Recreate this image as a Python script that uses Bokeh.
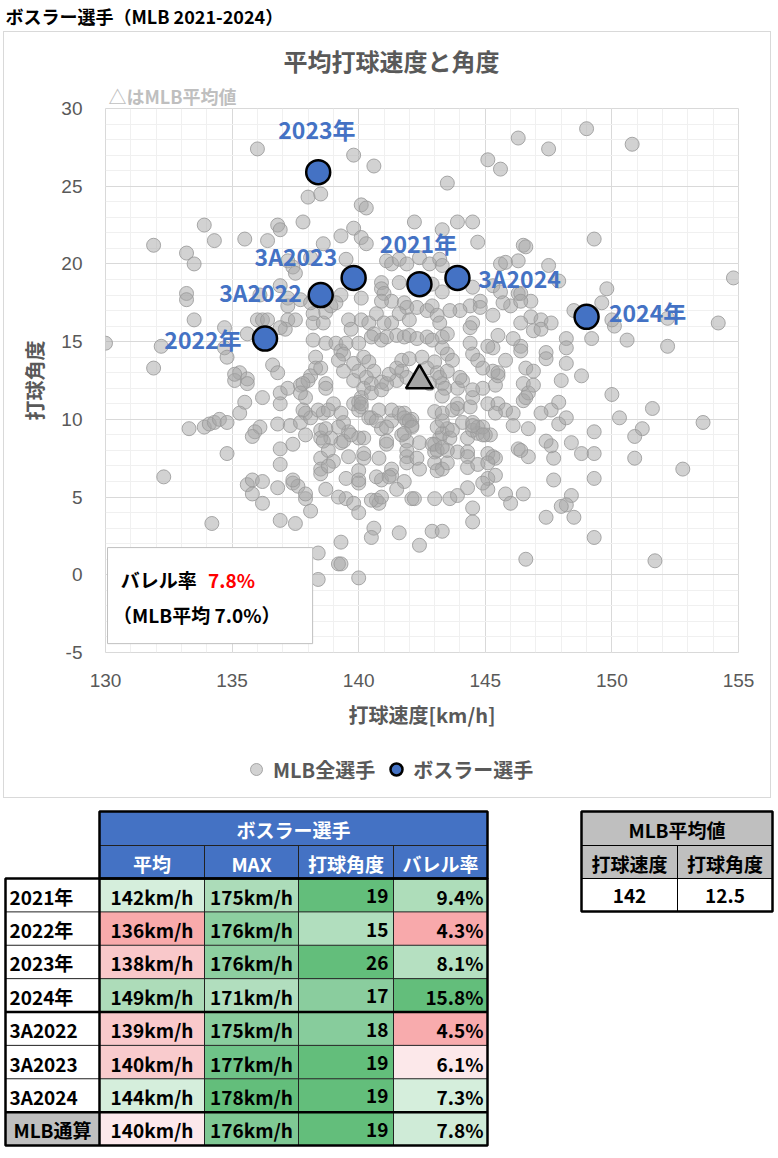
from bokeh.plotting import figure
from bokeh.models import (Range1d, Label, Legend, LegendItem, SingleIntervalTicker,
                          PrintfTickFormatter, Title)
from bokeh.embed import file_html
from bokeh.resources import INLINE
from bokeh.core.properties import value

JP = "Noto Sans CJK JP"
NUM = "Liberation Sans"
GRAY_TXT = "#595959"
BLUE = "#4472C4"

# ---------------- data ----------------
mlb_speed = [
    136.0, 138.0, 137.8, 133.9, 136.8, 136.9, 131.9, 134.3, 135.5, 136.4, 133.2, 133.5, 137.2, 137.4, 137.5,
    133.2, 133.2, 136.9, 136.1, 137.2, 137.7, 137.2, 133.5, 136.0, 136.2, 136.4, 137.2, 137.5, 137.1, 138.2,
    138.2, 134.7, 135.6, 130.0, 132.2, 134.7, 134.8, 131.9, 136.6, 136.8, 135.3, 135.6, 138.2, 138.3, 138.3,
    138.1, 135.1, 135.6, 136.2, 136.9, 136.9, 137.2, 137.7, 138.0, 135.5, 135.3, 137.9, 137.9, 133.3, 133.9,
    134.1, 134.3, 134.5, 134.8, 136.8, 137.3, 137.7, 137.9, 136.1, 135.9, 135.8, 134.8, 136.9, 137.4, 136.9,
    132.3, 135.6, 135.8, 136.2, 136.8, 135.8, 137.4, 137.6, 136.2, 137.9, 138.1, 136.9, 137.5, 134.2, 138.4,
    138.4, 135.1, 138.7, 139.5, 139.5, 139.8, 140.0, 140.6, 140.5, 141.6, 142.4, 142.9, 143.3, 144.5, 144.5,
    139.2, 139.3, 140.0, 139.3, 146.6, 140.7, 140.8, 142.1, 142.2, 143.0, 143.6, 143.9, 144.3, 145.1, 145.1,
    145.4, 145.8, 146.0, 146.5, 146.3, 146.7, 140.9, 141.3, 141.3, 141.8, 141.5, 142.4, 140.0, 140.0, 138.5,
    138.5, 138.5, 139.0, 139.6, 140.2, 140.8, 141.9, 141.9, 141.9, 143.0, 143.0, 143.3, 143.5, 143.9, 144.3,
    144.3, 144.3, 144.7, 145.1, 145.3, 145.4, 139.3, 139.6, 140.2, 141.1, 142.4, 141.7, 141.9, 142.1, 142.1,
    141.8, 143.0, 143.2, 143.3, 143.5, 143.6, 144.1, 144.3, 144.5, 144.7, 145.2, 138.5, 138.5, 138.9, 138.1,
    138.6, 139.0, 139.3, 139.8, 140.1, 140.5, 140.8, 140.9, 141.3, 141.6, 141.9, 143.0, 143.9, 144.4, 145.1,
    145.5, 145.8, 146.1, 146.1, 146.5, 146.5, 146.7, 138.7, 138.7, 139.8, 140.2, 140.9, 141.5, 143.3, 143.9,
    144.1, 144.5, 144.9, 145.4, 145.5, 139.8, 140.6, 138.5, 140.1, 140.3, 143.5, 145.1, 145.6, 146.3, 142.2,
    143.9, 144.5, 143.3, 144.7, 139.8, 139.3, 140.1, 140.3, 138.6, 138.1, 139.5, 141.1, 141.3, 141.6, 141.9,
    142.4, 142.8, 143.2, 143.3, 145.6, 145.8, 146.3, 146.5, 141.6, 142.9, 143.3, 140.9, 140.9, 141.0, 141.3,
    140.1, 139.3, 139.1, 138.1, 144.5, 144.8, 144.4, 145.3, 145.6, 146.0, 146.3, 146.8, 136.9, 138.6, 138.7,
    138.7, 139.1, 139.3, 139.5, 140.0, 138.9, 139.6, 139.7, 140.1, 140.4, 140.7, 140.9, 141.8, 141.9, 141.6,
    141.3, 142.0, 142.3, 142.7, 142.9, 143.1, 143.2, 143.3, 143.5, 141.0, 140.6, 140.5, 140.9, 141.1, 141.5,
    141.8, 142.0, 142.3, 142.7, 142.9, 139.4, 139.2, 139.4, 138.5, 137.8, 137.7, 139.8, 140.0, 140.2, 140.4,
    140.6, 140.3, 140.5, 140.1, 140.0, 140.5, 140.9, 141.1, 141.2, 141.5, 141.7, 141.7, 141.9, 142.0, 142.5,
    142.7, 143.0, 143.1, 143.2, 143.4, 143.3, 142.8, 137.8, 138.4, 138.8, 139.4, 139.2, 138.7, 138.6, 139.4,
    138.8, 138.8, 140.2, 140.0, 139.7, 140.4, 140.0, 140.1, 140.7, 141.1, 141.1, 141.3, 141.8, 142.0, 142.1,
    141.8, 142.3, 141.2, 140.7, 140.0, 137.9, 137.4, 139.2, 140.5, 140.9, 143.1, 142.9, 143.1, 143.5, 143.1,
    143.3, 149.8, 149.6, 148.5, 150.1, 149.2, 148.2, 148.2, 148.2, 148.8, 148.0, 147.4, 147.4, 150.0, 150.3,
    149.3, 148.4, 148.8, 149.3, 149.3, 147.7, 148.4, 148.2, 147.7, 147.6, 147.4, 147.9, 147.9, 148.2, 147.6,
    147.2, 146.7, 145.4, 145.0, 144.5, 144.7, 144.9, 146.6, 146.9, 146.9, 146.6, 146.4, 146.4, 146.1, 145.8,
    145.3, 145.5, 144.9, 144.7, 144.5, 144.4, 145.5, 145.3, 145.1, 146.8, 147.2, 147.6, 146.9, 147.2, 146.4,
    145.7, 145.3, 144.8, 144.5, 144.4, 144.0, 143.6, 143.5, 143.3, 143.7, 143.5, 144.0, 144.5, 143.9, 143.7,
    143.3, 144.5, 144.9, 143.7, 143.3, 145.1, 144.9, 151.6, 151.2, 150.9, 153.6, 150.9, 152.8, 148.0, 148.5,
    147.4, 149.3, 151.7, 146.4, 149.0, 150.8, 147.5, 149.3, 154.8, 147.5, 147.9, 150.0, 152.2, 154.2, 150.6,
    152.2, 146.6, 146.4, 146.4,
]
mlb_angle = [
    27.4, 24.3, 22.7, 22.5, 22.5, 22.2, 21.2, 21.5, 21.6, 21.5, 20.7, 20.0, 20.2, 19.8, 19.4,
    18.1, 17.7, 18.6, 18.0, 17.8, 17.7, 17.3, 16.4, 16.4, 16.4, 16.4, 16.4, 16.4, 15.8, 16.8,
    16.2, 15.9, 15.5, 14.9, 14.7, 14.6, 14.0, 13.3, 13.5, 13.0, 13.0, 12.6, 15.1, 14.0, 13.3,
    12.8, 12.5, 12.3, 11.4, 11.7, 11.0, 12.0, 12.2, 12.5, 11.1, 10.4, 11.4, 10.4, 9.4, 9.5,
    9.7, 9.8, 10.0, 9.8, 9.7, 9.6, 9.8, 9.0, 9.5, 9.2, 8.9, 7.8, 8.1, 8.4, 7.1,
    6.3, 5.8, 6.1, 6.0, 5.6, 5.2, 5.9, 5.7, 4.6, 4.9, 4.1, 3.5, 3.3, 3.3, 1.4,
    -0.3, 12.9, 5.5, 6.2, 4.9, 4.6, 4.0, 3.0, 2.4, 2.7, 1.9, 2.8, 2.8, 4.3, 3.4,
    0.7, 0.7, -0.2, 2.1, 1.0, 4.8, 4.6, 4.9, 4.9, 4.9, 4.9, 5.1, 5.6, 5.5, 6.2,
    6.4, 5.2, 4.6, 5.2, 8.1, 7.6, 6.1, 6.4, 6.8, 6.0, 5.5, 6.8, 6.7, 5.9, 7.5,
    6.8, 6.5, 7.3, 7.6, 7.5, 7.5, 8.0, 7.6, 7.2, 7.9, 7.2, 6.8, 7.2, 7.9, 7.9,
    7.6, 6.9, 7.1, 7.8, 7.6, 7.5, 8.5, 9.2, 8.8, 8.4, 8.5, 9.0, 8.6, 10.0, 9.6,
    10.4, 8.4, 8.8, 9.1, 9.4, 8.8, 9.8, 8.8, 9.3, 9.1, 9.0, 9.3, 8.8, 8.8, 10.1,
    10.4, 11.0, 10.4, 11.0, 10.8, 10.1, 10.6, 9.4, 9.9, 10.4, 9.9, 10.5, 10.7, 10.8, 11.0,
    11.0, 10.6, 10.4, 9.6, 11.2, 12.3, 11.7, 12.3, 12.0, 12.5, 12.0, 12.4, 12.5, 12.3, 12.0,
    12.5, 11.4, 12.0, 12.2, 12.8, 27.0, 26.3, 24.5, 23.8, 23.6, 25.2, 26.7, 26.1, 28.1, 22.7,
    22.7, 22.7, 22.2, 21.4, 22.3, 21.8, 21.7, 21.3, 21.3, 20.4, 20.3, 20.2, 20.0, 20.3, 20.0,
    20.4, 20.0, 20.3, 19.9, 20.0, 20.1, 20.2, 21.2, 18.8, 18.7, 18.2, 18.8, 18.4, 18.1, 17.6,
    17.8, 18.0, 17.5, 17.5, 18.5, 17.6, 17.3, 18.6, 18.2, 17.3, 18.1, 17.6, 15.9, 16.2, 16.9,
    14.9, 14.9, 14.4, 14.9, 14.9, 17.3, 16.4, 15.8, 16.4, 16.2, 16.8, 17.6, 17.5, 17.2, 16.8,
    16.2, 16.4, 17.2, 17.0, 17.3, 16.7, 16.2, 15.3, 14.2, 16.2, 15.5, 15.3, 15.1, 15.3, 15.4,
    15.3, 15.4, 15.2, 15.3, 15.1, 14.2, 13.8, 13.1, 13.3, 12.3, 11.7, 13.6, 13.1, 14.0, 13.7,
    13.1, 12.7, 12.3, 11.4, 11.1, 11.7, 11.9, 12.3, 12.9, 13.3, 13.8, 13.1, 12.7, 13.9, 14.0,
    13.3, 13.7, 13.0, 12.7, 12.0, 11.5, 12.3, 10.6, 10.6, 10.6, 9.8, 9.5, 9.4, 8.6, 8.6,
    8.0, 7.0, 7.8, 8.8, 9.0, 10.1, 10.6, 11.0, 9.9, 9.5, 8.6, 10.6, 10.1, 9.9, 9.5,
    9.1, 7.5, 6.3, 6.3, 6.1, 5.2, 6.1, 5.0, 4.8, 5.0, 6.7, 8.4, 8.0, 8.0, 9.5,
    9.9, 18.4, 17.5, 17.0, 16.0, 15.2, 15.2, 14.6, 13.6, 12.8, 12.5, 14.3, 13.9, 11.6, 10.1,
    9.2, 8.5, 7.8, 7.8, 6.2, 6.1, 5.1, 4.5, 7.5, 8.3, 8.6, 9.7, 11.1, 10.1, 10.6,
    10.4, 9.4, 10.4, 9.0, 9.8, 9.5, 9.5, 13.3, 13.1, 12.2, 11.4, 14.7, 14.4, 15.2, 13.8,
    13.1, 13.0, 13.3, 13.8, 14.2, 14.9, 15.4, 14.6, 14.7, 16.6, 16.4, 16.2, 15.7, 15.8, 16.2,
    17.5, 16.7, 17.2, 16.2, 15.9, 17.0, 17.0, 15.5, 14.6, 13.8, 13.1, 12.7, 11.9, 11.0, 10.6,
    10.4, 9.6, 9.0, 9.3, 8.2, 7.2, 5.9, 10.7, 9.4, 8.9, 9.8, 7.5, 6.8, 4.4, 3.7,
    3.7, 2.4, 0.9, 8.0, 28.7, 27.7, 27.4, 21.6, 19.1, 19.9, 18.9, 16.4, 16.5, 16.2, 15.1,
    14.7, 21.1, 18.1, 17.6,
]

mlb_avg_speed = [142.4]
mlb_avg_angle = [12.5]

bos_labels = ["2021年", "2022年", "2023年", "2024年", "3A2022", "3A2023", "3A2024"]
bos_speed = [142.4, 136.3, 138.4, 149.0, 138.5, 139.8, 143.9]
bos_angle = [18.7, 15.2, 25.9, 16.6, 18.0, 19.1, 19.1]

barrel_total = "7.8%"
barrel_mlb = "7.0%"

row_names = ["2021年", "2022年", "2023年", "2024年", "3A2022", "3A2023", "3A2024", "MLB通算"]
avg_kmh = [142, 136, 138, 149, 139, 140, 144, 140]
max_kmh = [175, 176, 176, 171, 175, 177, 178, 176]
angle_deg = [19, 15, 26, 17, 18, 19, 19, 19]
barrel_pct = [9.4, 4.3, 8.1, 15.8, 4.5, 6.1, 7.3, 7.8]

mlb_avg_headers = ["打球速度", "打球角度"]
mlb_avg_values = ["142", "12.5"]

# ---------------- styles (cell colours, label offsets) ----------------
avg_colors = ["#D5EEDC", "#F8AAAB", "#F9C8CA", "#ADDCB9", "#F9C9CB", "#F9CBCD", "#D5EEDC", "#FCE8EB"]
max_colors = ["#ACDCB9", "#8DCFA0", "#8DCFA0", "#B1DEBE", "#8ACD9E", "#6FC388", "#63BE7B", "#7FC894"]
ang_colors = ["#63BE7B", "#B1DEBE", "#63BE7B", "#8ACD9E", "#87CC9C", "#63BE7B", "#63BE7B", "#63BE7B"]
bar_colors = ["#AEDDBA", "#F8A9AB", "#B5E0C1", "#63BE7B", "#F8ABAD", "#FCE8EA", "#D5EEDC", "#CFEBD7"]

lab_x = [142.36, 133.85, 138.35, 151.41, 136.12, 137.52, 146.35]
lab_y = [21.35, 15.17, 28.71, 16.9, 18.19, 20.48, 19.09]

GRAY_STYLE = dict(fill_color="#A5A5A5", fill_alpha=0.5, line_color="#9A9A9A", line_alpha=0.85, line_width=1)
BLUE_STYLE = dict(fill_color=BLUE, line_color="black", line_width=2.5)

# ---------------- page title ----------------
ph = figure(width=778, height=31, x_range=Range1d(0, 778), y_range=Range1d(31, 0),
            x_axis_type=None, y_axis_type=None, output_backend="svg",
            toolbar_location=None, min_border=0)
ph.outline_line_color = None
ph.grid.visible = False
ph.text(x=[5], y=[15], text=["ボスラー選手（MLB 2021-2024）"], text_font=value(JP),
        text_font_style="bold", text_font_size="18px", text_color="black",
        text_align="left", text_baseline="middle")

# ---------------- scatter chart ----------------
p1 = figure(width=768, height=718, x_range=Range1d(130, 155), y_range=Range1d(-5, 30),
            output_backend="svg", toolbar_location=None,
            min_border_left=101, min_border_right=34, min_border_top=76, min_border_bottom=98)
p1.styles = {"border": "1px solid #D9D9D9", "border-bottom": "none", "margin-left": "3px"}
p1.outline_line_color = "#D9D9D9"
p1.background_fill_color = "white"
p1.border_fill_color = "white"

for ax in (p1.xaxis[0], p1.yaxis[0]):
    ax.ticker = SingleIntervalTicker(interval=5, num_minor_ticks=5)
    ax.formatter = PrintfTickFormatter(format="%d")
    ax.axis_line_color = None
    ax.major_tick_line_color = None
    ax.minor_tick_line_color = None
    ax.major_label_text_font = NUM
    ax.major_label_text_font_size = "19px"
    ax.major_label_text_color = GRAY_TXT
    ax.axis_label_text_font = JP
    ax.axis_label_text_font_style = "bold"
    ax.axis_label_text_font_size = "20px"
    ax.axis_label_text_color = GRAY_TXT

p1.xaxis.axis_label = "打球速度[km/h]"
p1.yaxis.axis_label = "打球角度"
p1.xaxis.major_label_standoff = 15
p1.xaxis.axis_label_standoff = 10
p1.yaxis.major_label_standoff = 17
p1.yaxis.axis_label_standoff = 9

for g in (p1.xgrid[0], p1.ygrid[0]):
    g.grid_line_color = "#D9D9D9"
    g.minor_grid_line_color = "#F0F0F0"

p1.scatter(mlb_speed, mlb_angle, size=14, **GRAY_STYLE)

p1.quad(left=[130.08], right=[138.18], bottom=[-4.43], top=[1.75],
        fill_color="white", line_color="#BFBFBF", line_width=1)

p1.scatter(mlb_avg_speed, mlb_avg_angle, marker="triangle", size=27,
           fill_color="#A5A5A5", line_color="black", line_width=2.5)

p1.scatter(bos_speed, bos_angle, size=24, **BLUE_STYLE)

p1.text(x=lab_x, y=lab_y, text=bos_labels, text_font=value(JP), text_font_style="bold",
        text_font_size="23px", text_color=BLUE, text_align="center", text_baseline="middle")

p1.add_layout(Label(x=130.6, y=-0.28, text="バレル率", text_font=JP,
                    text_font_style="bold", text_font_size="19px", text_color="black",
                    text_align="left", text_baseline="middle"))
p1.add_layout(Label(x=134.05, y=-0.28, text=barrel_total, text_font=JP,
                    text_font_style="bold", text_font_size="19px", text_color="#FF0000",
                    text_align="left", text_baseline="middle"))
p1.add_layout(Label(x=130.3, y=-2.53, text="（MLB平均 " + barrel_mlb + "）", text_font=JP,
                    text_font_style="bold", text_font_size="19px", text_color="black",
                    text_align="left", text_baseline="middle"))

p1.add_layout(Title(text="△はMLB平均値", align="left", offset=3, standoff=0,
                    text_font=JP, text_font_style="bold", text_font_size="18px",
                    text_color="#BFBFBF"), "above")
p1.add_layout(Title(text="平均打球速度と角度", align="left", offset=178, standoff=6,
                    text_font=JP, text_font_style="bold", text_font_size="24px",
                    text_color=GRAY_TXT), "above")

# ---------------- legend strip (bottom of the chart box) ----------------
pl = figure(width=768, height=49, x_range=Range1d(0, 768), y_range=Range1d(0, 49),
            x_axis_type=None, y_axis_type=None, output_backend="svg",
            toolbar_location=None, min_border=0)
pl.styles = {"border": "1px solid #D9D9D9", "border-top": "none", "margin-left": "3px"}
pl.outline_line_color = None
pl.grid.visible = False
leg_gray = pl.scatter([-100], [-100], size=14, **GRAY_STYLE)
leg_blue = pl.scatter([-100], [-100], size=24, **BLUE_STYLE)
legend = Legend(items=[LegendItem(label="MLB全選手", renderers=[leg_gray]),
                       LegendItem(label="ボスラー選手", renderers=[leg_blue])],
                orientation="horizontal", location=(237, 14))
legend.border_line_color = None
legend.background_fill_alpha = 0
legend.label_text_font = JP
legend.label_text_font_style = "bold"
legend.label_text_font_size = "20px"
legend.label_text_color = GRAY_TXT
legend.glyph_width = 30
legend.glyph_height = 30
legend.label_standoff = 2
legend.spacing = 6
legend.padding = 0
legend.margin = 0
pl.add_layout(legend, "center")

# ---------------- tables ----------------
p2 = figure(width=778, height=356, x_range=Range1d(0, 778), y_range=Range1d(1156, 800),
            x_axis_type=None, y_axis_type=None, output_backend="svg",
            toolbar_location=None, min_border=0)
p2.outline_line_color = None
p2.grid.visible = False

col_edges = [5, 99, 204, 298, 393, 487]
hdr_top, hdr_mid, hdr_bot = 813, 847, 880
n = len(row_names)
row_h = (1147 - hdr_bot) / n
row_edges = [hdr_bot + i * row_h for i in range(n + 1)]

p2.quad(left=[col_edges[1]], right=[col_edges[5]], top=[hdr_top], bottom=[hdr_bot],
        fill_color=BLUE, line_color=None)
p2.text(x=[(col_edges[1] + col_edges[5]) / 2], y=[(hdr_top + hdr_mid) / 2 + 1], text=["ボスラー選手"],
        text_font=value(JP), text_font_style="bold", text_font_size="19px", text_color="white",
        text_align="center", text_baseline="middle")
sub_headers = ["平均", "MAX", "打球角度", "バレル率"]
p2.text(x=[(col_edges[i] + col_edges[i + 1]) / 2 for i in range(1, 5)],
        y=[(hdr_mid + hdr_bot) / 2 + 1] * 4, text=sub_headers,
        text_font=value(JP), text_font_style="bold", text_font_size="19px", text_color="white",
        text_align="center", text_baseline="middle")

L, R, T, B, C = [], [], [], [], []
col_colors = [avg_colors, max_colors, ang_colors, bar_colors]
for i in range(n):
    L.append(col_edges[0]); R.append(col_edges[1]); T.append(row_edges[i]); B.append(row_edges[i + 1])
    C.append("#BFBFBF" if row_names[i] == "MLB通算" else "white")
    for j in range(4):
        L.append(col_edges[j + 1]); R.append(col_edges[j + 2])
        T.append(row_edges[i]); B.append(row_edges[i + 1]); C.append(col_colors[j][i])
p2.quad(left=L, right=R, top=T, bottom=B, fill_color=C, line_color=None)

mids = [(row_edges[i] + row_edges[i + 1]) / 2 + 1 for i in range(n)]
txt_kw = dict(text_font=value(JP), text_font_style="bold", text_font_size="19px",
              text_color="black", text_baseline="middle")
name_x = [52 if nm == "MLB通算" else 9 for nm in row_names]
name_al = ["center" if nm == "MLB通算" else "left" for nm in row_names]
p2.text(x=name_x, y=mids, text=row_names, text_align=name_al, **txt_kw)
p2.text(x=[(col_edges[1] + col_edges[2]) / 2] * n, y=mids, text=[f"{v}km/h" for v in avg_kmh],
        text_align="center", **txt_kw)
p2.text(x=[(col_edges[2] + col_edges[3]) / 2] * n, y=mids, text=[f"{v}km/h" for v in max_kmh],
        text_align="center", **txt_kw)
p2.text(x=[col_edges[4] - 5] * n, y=mids, text=[str(v) for v in angle_deg],
        text_align="right", **txt_kw)
p2.text(x=[col_edges[5] - 4] * n, y=mids, text=[f"{v}%" for v in barrel_pct],
        text_align="right", **txt_kw)

xs, ys = [], []
xs.append([col_edges[1], col_edges[5]]); ys.append([hdr_mid, hdr_mid])
for xv in col_edges[2:5]:
    xs.append([xv, xv]); ys.append([hdr_mid, hdr_bot])
for yv in row_edges[1:-1]:
    xs.append([col_edges[0], col_edges[5]]); ys.append([yv, yv])
for xv in col_edges[2:5]:
    xs.append([xv, xv]); ys.append([hdr_bot, row_edges[-1]])
p2.multi_line(xs, ys, line_color="#222222", line_width=1)

txs, tys = [], []
txs.append([col_edges[1], col_edges[1]]); tys.append([hdr_bot, row_edges[-1]])
for k in (4, 7):
    txs.append([col_edges[0], col_edges[5]]); tys.append([row_edges[k], row_edges[k]])
p2.multi_line(txs, tys, line_color="black", line_width=2.5)
p2.quad(left=[col_edges[1], col_edges[0]], right=[col_edges[5], col_edges[5]],
        top=[hdr_top, hdr_bot], bottom=[hdr_bot, row_edges[-1]],
        fill_color=None, line_color="black", line_width=2.5)

rx = [581, 677, 772]
ry = [813, 847, 880, 913]
p2.quad(left=[rx[0], rx[0]], right=[rx[2], rx[2]], top=[ry[0], ry[2]], bottom=[ry[2], ry[3]],
        fill_color=["#BFBFBF", "white"], line_color=None)
p2.multi_line([[rx[0], rx[2]], [rx[0], rx[2]], [rx[1], rx[1]]],
              [[ry[1], ry[1]], [ry[2], ry[2]], [ry[1], ry[3]]], line_color="black", line_width=1)
p2.quad(left=[rx[0]], right=[rx[2]], top=[ry[0]], bottom=[ry[3]],
        fill_color=None, line_color="black", line_width=2.5)
p2.text(x=[(rx[0] + rx[2]) / 2], y=[(ry[0] + ry[1]) / 2 + 1], text=["MLB平均値"],
        text_align="center", **txt_kw)
p2.text(x=[(rx[0] + rx[1]) / 2, (rx[1] + rx[2]) / 2], y=[(ry[1] + ry[2]) / 2 + 1] * 2,
        text=mlb_avg_headers, text_align="center", **txt_kw)
p2.text(x=[(rx[0] + rx[1]) / 2, (rx[1] + rx[2]) / 2], y=[(ry[2] + ry[3]) / 2 + 1] * 2,
        text=mlb_avg_values, text_align="center", **txt_kw)

open("out.html", "w").write(file_html([ph, p1, pl, p2], INLINE))
